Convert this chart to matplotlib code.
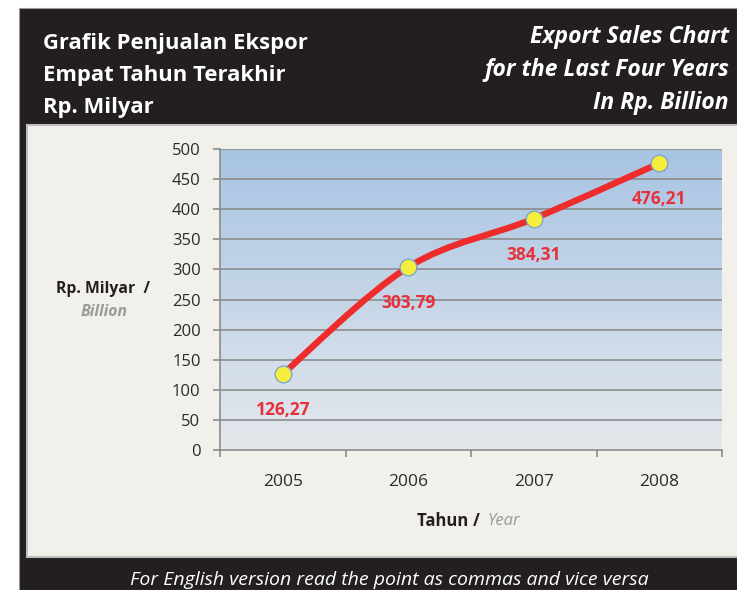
import matplotlib
matplotlib.use("Agg")
import matplotlib.pyplot as plt
import numpy as np
from matplotlib.path import Path
from matplotlib.patches import PathPatch, Rectangle
from matplotlib.colors import LinearSegmentedColormap

years = ["2005", "2006", "2007", "2008"]
values = [126.27, 303.79, 384.31, 476.21]
value_labels = ["126,27", "303,79", "384,31", "476,21"]
yticks = [0, 50, 100, 150, 200, 250, 300, 350, 400, 450, 500]

FONT = ["Open Sans", "DejaVu Sans"]
plt.rcParams["font.family"] = FONT

W, H = 737, 590
fig = plt.figure(figsize=(W / 100, H / 100), dpi=100)
fig.patch.set_facecolor("white")

def fx(px):
    return px / W

def fy(py):
    return 1 - py / H

# dark background
fig.patches.append(Rectangle((fx(19), 0), 1 - fx(19), fy(8), transform=fig.transFigure,
                             facecolor="#231F20", edgecolor="#9a9a9a", linewidth=0.8, zorder=0))
# inner light panel
fig.patches.append(Rectangle((fx(27), fy(557)), 1 - fx(27) + 0.01, fy(125) - fy(557),
                             transform=fig.transFigure, facecolor="#F2F0EA",
                             edgecolor="#BDBDBD", linewidth=1.5, zorder=1))

# titles
for i, t in enumerate(["Grafik Penjualan Ekspor", "Empat Tahun Terakhir", "Rp. Milyar"]):
    fig.text(fx(43), fy(44 + 32 * i), t, color="white", fontsize=15.8, fontweight="bold",
             ha="left", va="center")
for i, t in enumerate(["Export Sales Chart", "for the Last Four Years", "In Rp. Billion"]):
    fig.text(fx(729), fy(37 + 33 * i), t, color="white", fontsize=16.5, fontweight="bold",
             style="italic", ha="right", va="center")

fig.text(fx(389), fy(580), "For English version read the point as commas and vice versa",
         color="white", fontsize=14, style="italic", ha="center", va="center")

# axes
ax = fig.add_axes([fx(220), fy(450), fx(722) - fx(220), fy(149) - fy(450)])
ax.set_zorder(3)
ax.patch.set_alpha(0)

x = np.arange(len(years))
ax.set_xlim(-0.5, len(years) - 0.5)
ax.set_ylim(0, 500)

cmap = LinearSegmentedColormap.from_list("bg", ["#E4E8EC", "#A8C4E3"])
grad = np.linspace(0, 1, 256).reshape(-1, 1)
ax.imshow(grad, cmap=cmap, origin="lower", aspect="auto", extent=[0, 1, 0, 1],
          transform=ax.transAxes, zorder=0)

for yv in yticks[1:]:
    ax.axhline(yv, color="#8C8C8C", linewidth=1.2, zorder=1)

for s in ["top", "right"]:
    ax.spines[s].set_visible(False)
for s in ["left", "bottom"]:
    ax.spines[s].set_color("#8C8C8C")
    ax.spines[s].set_linewidth(1.2)

ax.set_yticks(yticks)
ax.set_yticklabels([str(v) for v in yticks], fontsize=12, color="#2B2B2B")
ax.set_xticks(np.arange(len(years) + 1) - 0.5)
ax.set_xticklabels([])
ax.set_xticks(x, minor=True)
ax.set_xticklabels(years, minor=True, fontsize=12.5, color="#2B2B2B")
ax.tick_params(axis="x", which="minor", length=0, pad=17)
ax.tick_params(axis="x", which="major", length=5, color="#8C8C8C", width=1.2)
ax.tick_params(axis="y", length=5, color="#8C8C8C", width=1.2, pad=9)

# smooth line (Catmull-Rom style bezier like Excel)
pts = np.column_stack([x, values]).astype(float)
verts = [tuple(pts[0])]
codes = [Path.MOVETO]
n = len(pts)
for i in range(n - 1):
    p0 = pts[max(i - 1, 0)]
    p1 = pts[i]
    p2 = pts[i + 1]
    p3 = pts[min(i + 2, n - 1)]
    c1 = p1 + (p2 - p0) / 6
    c2 = p2 - (p3 - p1) / 6
    verts += [tuple(c1), tuple(c2), tuple(p2)]
    codes += [Path.CURVE4] * 3
ax.add_patch(PathPatch(Path(verts, codes), facecolor="none", edgecolor="#EE2C2C",
                       linewidth=4.6, capstyle="round", joinstyle="round", zorder=4))
ax.plot(x, values, linestyle="none", marker="o", markersize=12,
        markerfacecolor="#F6EE3C", markeredgecolor="#7FA7C9", markeredgewidth=1.0, zorder=5)

for xi, v, lab in zip(x, values, value_labels):
    ax.annotate(lab, (xi, v), xytext=(0, -26), textcoords="offset points", ha="center",
                va="center", color="#E8303A", fontsize=12.5, fontweight="bold", zorder=6)

fig.text(fx(473), fy(521), "Tahun ", color="#231F20", fontsize=12, fontweight="bold",
         ha="right", va="center")
fig.text(fx(473), fy(521), "/ ", color="#231F20", fontsize=12, fontweight="bold",
         ha="left", va="center")
fig.text(fx(487), fy(521), "Year", color="#9A9A9A", fontsize=12, style="italic",
         ha="left", va="center")

fig.text(fx(103), fy(289), "Rp. Milyar  /", color="#231F20", fontsize=11.3, fontweight="bold",
         ha="center", va="center")
fig.text(fx(104), fy(312), "Billion", color="#9A9A9A", fontsize=11.3, fontweight="bold",
         style="italic", ha="center", va="center")

fig.savefig("out.png", dpi=100, facecolor=fig.get_facecolor())
